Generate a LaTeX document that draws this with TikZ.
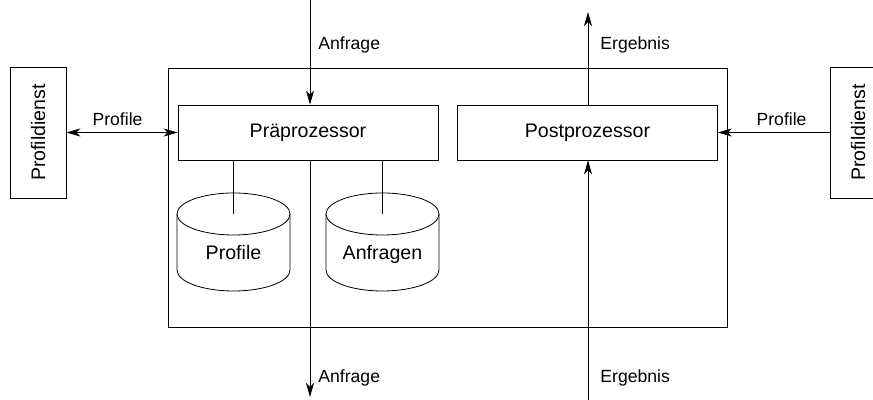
\documentclass[tikz,border=0pt]{standalone}
\usepackage{fontspec}
\setmainfont{Liberation Sans}
\usetikzlibrary{positioning,arrows.meta,calc}

\begin{document}
\begin{tikzpicture}[
    x=0.5pt, y=-0.5pt,
    >={Stealth[length=7pt,width=4pt,inset=2pt]},
    font={\fontsize{9.8}{11}\selectfont},
    box/.style={draw,rectangle,minimum width=130pt,minimum height=27.5pt,inner sep=0pt},
    service/.style={draw,rectangle,minimum width=28pt,minimum height=65.5pt,inner sep=0pt},
    store/.style={inner sep=0pt,text height=7pt,text depth=2pt},
    flow/.style={font={\fontsize{8.8}{10}\selectfont},inner sep=0pt},
]
    \useasboundingbox (0,0) rectangle (873,400);

    % Frame and processors
    \node[draw,rectangle,minimum width=279.5pt,minimum height=129.5pt] (frame) at (447.5,197.5) {};
    \node[box] (pre)  at (308,132.5)   {Präprozessor};
    \node[box] (post) at (587.5,132.5) {Postprozessor};

    % Profile services
    \node[service] (pdl) at (38,132.5)  {\rotatebox{90}{Profildienst}};
    \node[service] (pdr) at (858,132.5) {\rotatebox{90}{Profildienst}};

    % Stores
    \node[store] (profdb) at (233.5,255) {Profile};
    \node[store] (anfdb)  at (382.5,255) {Anfragen};

    \foreach \db in {profdb,anfdb} {
        \draw ($(\db)+(-56.5,-41)$) -- ($(\db)+(-56.5,15)$)
            arc[start angle=180,end angle=360,x radius=28.25pt,y radius=10.5pt]
            -- ($(\db)+(56.5,-41)$);
        \draw ($(\db)+(0,-41)$) ellipse[x radius=28.25pt,y radius=10.5pt];
        \draw (pre.south -| \db) -- ($(\db)+(0,-41)$);
    }

    % Ends of the flows
    \coordinate (anfin)  at (310,0);
    \coordinate (anfout) at (310,397);
    \coordinate (ergout) at (588,12);
    \coordinate (ergin)  at (588,400);

    % Flows
    \draw[<->] (pdl) -- (pre) node[flow,above=3pt,pos=0.46] {Profile};
    \draw[->] (pdr) -- (post) node[flow,above=3pt,pos=0.43] {Profile};
    \draw[->] (anfin) -- (anfin |- pre.north);
    \draw[->] (pre.south -| anfout) -- (anfout);
    \draw[->] (post.north -| ergout) -- (ergout);
    \draw[->] (ergin) -- (ergin |- post.south);

    \node[flow,anchor=west] (lanfin)  at (318,45)  {Anfrage};
    \node[flow,anchor=west] (lanfout) at (318,378) {Anfrage};
    \node[flow,anchor=west] (lergout) at (600,45)  {Ergebnis};
    \node[flow,anchor=west] (lergin)  at (600,378) {Ergebnis};

\end{tikzpicture}
\end{document}
